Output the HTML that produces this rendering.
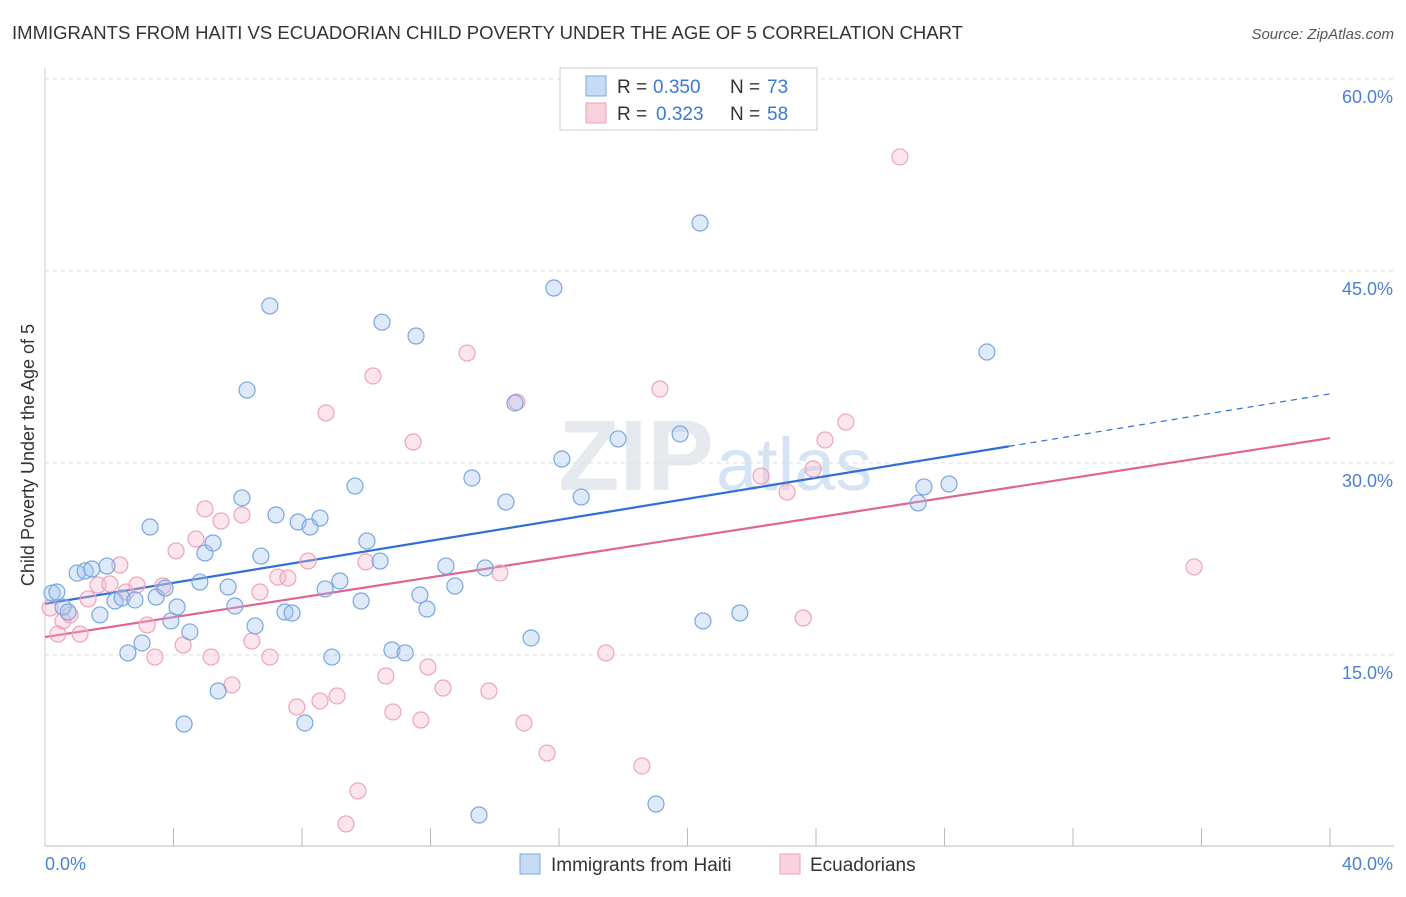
<!DOCTYPE html>
<html><head><meta charset="utf-8">
<style>
body{margin:0;background:#fff;font-family:"Liberation Sans",sans-serif;}
svg text{font-family:"Liberation Sans",sans-serif;}
</style></head>
<body>
<svg id="chart" width="1406" height="892" viewBox="0 0 1406 892" xmlns="http://www.w3.org/2000/svg">
<text x="12" y="39" font-size="18" fill="#333" textLength="951" lengthAdjust="spacingAndGlyphs">IMMIGRANTS FROM HAITI VS ECUADORIAN CHILD POVERTY UNDER THE AGE OF 5 CORRELATION CHART</text>
<text x="1394" y="39" font-size="15" fill="#555" font-style="italic" text-anchor="end">Source: ZipAtlas.com</text>
<text x="714" y="490" font-size="100" fill="#e6e9ee" text-anchor="end" font-family="Liberation Serif" font-weight="bold">ZIP</text>
<text x="716" y="490" font-size="74" fill="#d6e3f4">atlas</text>
<g id="grid"></g>
<g id="axes"></g>
<g id="lines"></g>
<g id="pts"></g>
<text transform="translate(34,455) rotate(-90)" font-size="18" fill="#333" text-anchor="middle">Child Poverty Under the Age of 5</text>
<g>
<rect x="560" y="68" width="257" height="62" fill="#fff" stroke="#ccc"/>
<rect x="586" y="76" width="20" height="20" fill="rgba(160,196,240,0.6)" stroke="#7aa8e0"/>
<rect x="586" y="103" width="20" height="20" fill="rgba(245,180,200,0.6)" stroke="#eea0b8"/>
<text x="617" y="93" font-size="19" fill="#333">R =</text>
<text x="653" y="93" font-size="19" fill="#3b78d8">0.350</text>
<text x="730" y="93" font-size="19" fill="#333">N =</text>
<text x="767" y="93" font-size="19" fill="#3b78d8">73</text>
<text x="617" y="120" font-size="19" fill="#333">R =</text>
<text x="656" y="120" font-size="19" fill="#3b78d8">0.323</text>
<text x="730" y="120" font-size="19" fill="#333">N =</text>
<text x="767" y="120" font-size="19" fill="#3b78d8">58</text>
</g>
<g>
<rect x="520" y="854" width="20" height="20" fill="rgba(160,196,240,0.6)" stroke="#7aa8e0"/>
<text x="551" y="871" font-size="19" fill="#333">Immigrants from Haiti</text>
<rect x="780" y="854" width="20" height="20" fill="rgba(245,180,200,0.6)" stroke="#eea0b8"/>
<text x="810" y="871" font-size="19" fill="#333">Ecuadorians</text>
</g>
</svg>
<script>
const blueX=[0.22,0.37,0.56,0.72,1.0,1.25,1.46,1.71,1.93,2.18,2.4,2.58,2.8,3.02,3.27,3.46,3.74,3.92,4.11,4.51,4.82,4.98,5.23,5.39,4.33,5.7,5.91,6.13,6.29,6.54,6.72,7.0,7.19,7.47,7.69,7.88,8.09,8.25,8.56,8.72,8.93,9.18,9.65,9.84,10.02,10.43,10.49,10.8,11.21,11.55,11.67,11.89,12.48,12.76,13.29,13.51,13.7,14.35,14.63,15.13,15.84,16.09,16.69,17.84,19.02,19.77,20.39,20.48,21.63,27.18,27.36,28.14,29.32];
const blueY=[19.84,19.92,18.75,18.36,21.4,21.56,21.72,18.13,21.95,19.22,19.45,15.16,19.3,15.94,25.0,19.53,20.23,17.66,18.75,16.8,20.7,22.97,23.75,12.19,9.61,20.31,18.83,27.27,35.7,17.27,22.73,42.27,25.94,18.36,18.28,25.39,9.69,25.0,25.7,20.16,14.84,20.78,28.2,19.22,23.9,22.34,41.0,15.39,15.16,39.92,19.69,18.59,21.95,20.39,28.83,2.5,21.8,26.95,34.69,16.33,43.67,30.31,27.34,31.88,3.36,32.27,48.75,17.66,18.28,26.88,28.13,28.36,38.67];
const pinkX=[0.16,0.4,0.56,0.78,1.09,1.34,1.65,2.02,2.33,2.52,2.86,3.18,3.42,3.67,4.08,4.3,4.7,4.98,5.17,5.48,5.82,6.13,6.44,6.69,7.0,7.25,7.56,7.84,8.19,8.56,8.75,9.09,9.37,9.74,9.99,10.21,10.61,10.83,11.46,11.7,11.92,12.39,13.14,13.82,14.16,14.69,14.91,15.63,17.46,18.58,19.14,22.29,23.1,23.6,23.91,24.28,24.93,26.61,35.77];
const pinkY=[18.67,16.64,17.66,18.13,16.64,19.38,20.47,20.55,22.03,19.92,20.47,17.34,14.84,20.39,23.13,15.78,24.06,26.41,14.84,25.47,12.66,25.94,16.09,19.92,14.84,21.09,21.02,10.94,22.34,11.41,33.91,11.8,1.8,4.38,22.27,36.8,13.36,10.55,31.64,9.92,14.06,12.42,38.59,12.19,21.41,34.77,9.69,7.34,15.16,6.33,35.78,28.98,27.73,17.89,29.53,31.8,33.2,53.91,21.88];
const blueTrend=[19.0,35.4]; // at x=0 and x=40
const blueSolidEnd=30.0;
const pinkTrend=[16.4,31.95];
const yTicks=[15,30,45,60];
const yTickLabels=["15.0%","30.0%","45.0%","60.0%"];
const xTickCount=10;
const NS="http://www.w3.org/2000/svg";
const X=v=>45+v*(1285/40);
const Y=v=>847-v*12.8;
function mk(tag,attrs,parent){const e=document.createElementNS(NS,tag);for(const k in attrs)e.setAttribute(k,attrs[k]);parent.appendChild(e);return e;}
const grid=document.getElementById('grid'),axes=document.getElementById('axes'),lines=document.getElementById('lines'),pts=document.getElementById('pts');
yTicks.forEach((t,i)=>{
 const l=mk('line',{x1:45,x2:1394,y1:Y(t),y2:Y(t),stroke:'#ddd','stroke-dasharray':'4,4'},grid);
 
 
 const tx=mk('text',{x:1393,y:Y(t)+24,'font-size':18,fill:'#4a80d6','text-anchor':'end'},axes);
 tx.textContent=yTickLabels[i];
 
 
});
const ax=mk('line',{x1:45,x2:1394,y1:846,y2:846,stroke:'#bbb'},axes);


const ay=mk('line',{x1:45,x2:45,y1:68,y2:846,stroke:'#ccc'},axes);


for(let i=1;i<=xTickCount;i++){
 const t=mk('line',{x1:X(i*4),x2:X(i*4),y1:828,y2:846,stroke:'#bbb'},axes);
 
 
}
const xl0=mk('text',{x:45,y:870,'font-size':18,fill:'#4a80d6'},axes);xl0.textContent='0.0%';


const xl1=mk('text',{x:1393,y:870,'font-size':18,fill:'#4a80d6','text-anchor':'end'},axes);xl1.textContent='40.0%';


function dot(x,y,fill,stroke,name){const c=mk('circle',{cx:X(x),cy:Y(y),r:8,fill:fill,stroke:stroke,'stroke-width':1.2},pts);
 
 }
pinkX.forEach((x,i)=>dot(x,pinkY[i],'rgba(245,180,200,0.35)','#eea3bb','ecuadorian-point'));
blueX.forEach((x,i)=>dot(x,blueY[i],'rgba(160,196,240,0.35)','#79a6df','haiti-point'));
const bAt=v=>blueTrend[0]+(blueTrend[1]-blueTrend[0])*v/40;
const bl=mk('line',{x1:X(0),y1:Y(bAt(0)),x2:X(blueSolidEnd),y2:Y(bAt(blueSolidEnd)),stroke:'#2f6fd6','stroke-width':2.2},lines);


const bd=mk('line',{x1:X(blueSolidEnd),y1:Y(bAt(blueSolidEnd)),x2:X(40),y2:Y(bAt(40)),stroke:'#2f6fd6','stroke-width':1.2,'stroke-dasharray':'6,5'},lines);


const pl=mk('line',{x1:X(0),y1:Y(pinkTrend[0]),x2:X(40),y2:Y(pinkTrend[1]),stroke:'#e2658f','stroke-width':2.2},lines);


</script>
</body></html>
